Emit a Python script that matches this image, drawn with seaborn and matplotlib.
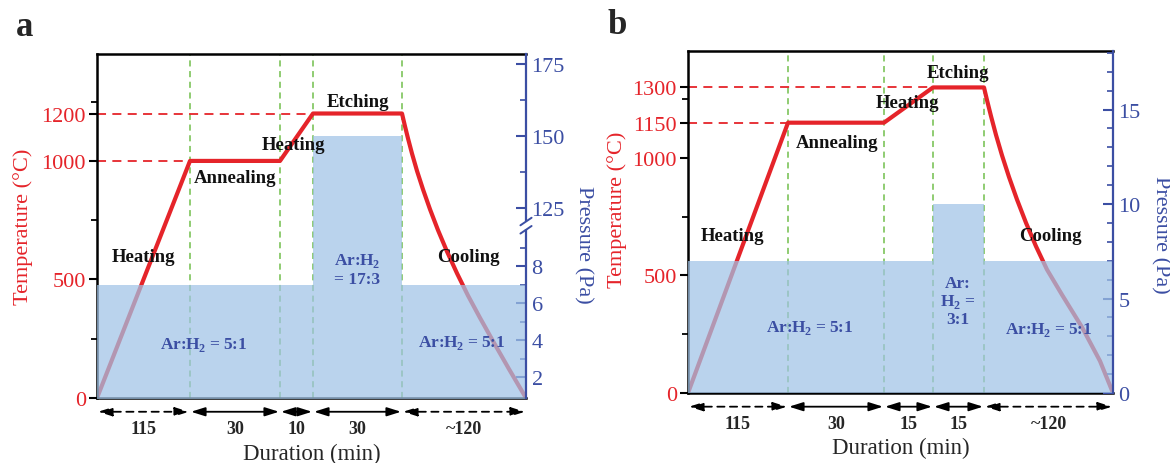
import numpy as np
import matplotlib
matplotlib.use("Agg")
import matplotlib.pyplot as plt
import seaborn as sns

# ---- data -------------------------------------------------------------
# duration labels for each phase (heating, annealing, heating, etching, cooling)
durations_a = ["115", "30", "10", "30", "~120"]
durations_b = ["115", "30", "15", "15", "~120"]

# schematic positions of the phase boundaries (time axis is not to scale)
edges_a = [0, 93, 183, 216, 305, 429]
edges_b = [0, 100, 196, 245, 296, 425]

# temperature profile (°C), cooling part
temp_x_a = [0, 93, 183, 216, 305, 308, 311, 315, 320, 326, 333, 341, 350,
            360, 371, 383, 396, 412, 429]
temp_y_a = [0, 1000, 1000, 1200, 1200, 1146, 1095, 1031, 958, 880, 796, 708, 618,
            526, 432, 338, 240, 122, 0]
temp_x_b = [0, 100, 196, 245, 296, 299, 303, 308, 314, 321, 329, 338, 348,
            359, 374, 394, 412, 425]
temp_y_b = [0, 1150, 1150, 1300, 1300, 1246, 1178, 1098, 1011, 919, 823, 724, 624,
            525, 418, 280, 136, 0]

# plateau temperatures marked with dashed guides
levels_a = [1000, 1200]
levels_b = [1150, 1300]

# chamber pressure per phase (Pa)
press_a = [7, 7, 7, 150, 7]
press_b = [7, 7, 7, 10, 7]

gas_a = ["Ar:H$_\\mathbf{2}$ = 5:1", "Ar:H$_\\mathbf{2}$\n= 17:3", "Ar:H$_\\mathbf{2}$ = 5:1"]
gas_b = ["Ar:H$_\\mathbf{2}$ = 5:1", "Ar:\nH$_\\mathbf{2}$ =\n3:1", "Ar:H$_\\mathbf{2}$ = 5:1"]
stages = ["Heating", "Annealing", "Heating", "Etching", "Cooling"]

# ---- style ------------------------------------------------------------
RED = "#e5242a"
BLUE = "#3b4ea3"
GREEN = "#72bf4c"
FILL = "#a0c3e6"

sns.set_theme(style="ticks")
plt.rcParams["font.family"] = ["Liberation Serif", "DejaVu Serif"]
plt.rcParams["mathtext.fontset"] = "custom"
plt.rcParams["mathtext.rm"] = "Liberation Serif"
plt.rcParams["mathtext.bf"] = "Liberation Serif:bold"

fig = plt.figure(figsize=(11.7, 4.64), dpi=100)
W, H = 1170, 464
ax_a = fig.add_axes([97 / W, 1 - 399 / H, 429 / W, 344 / H])
ax_b = fig.add_axes([688 / W, 1 - 394 / H, 425 / W, 342 / H])


def draw_panel(ax, edges, tx, ty, levels, press, durations, tmax):
    ax2 = ax.twinx()
    ax.set_xlim(edges[0], edges[-1])
    ax.set_ylim(0, tmax)
    ax.set_xticks([])

    # phase boundaries
    for x in edges[1:-1]:
        ax.axvline(x, color=GREEN, ls=(0, (4, 3)), lw=1.1, zorder=1)
    # plateau guides
    for lvl in levels:
        x_end = tx[ty.index(lvl)]
        ax.plot([edges[0], x_end], [lvl, lvl], color=RED, ls=(0, (5, 3.5)), lw=1.3)

    sns.lineplot(x=tx, y=ty, sort=False, estimator=None, color=RED, lw=3, ax=ax,
                 solid_joinstyle="round")

    # pressure band, drawn over the red curve
    ax2.fill_between(edges, press + [press[-1]], 0, step="post",
                     color=FILL, alpha=0.72, lw=0)

    for side in ["left", "top", "bottom"]:
        ax.spines[side].set_color("black")
        ax.spines[side].set_linewidth(1.8)
    ax.spines["right"].set_visible(False)
    for side in ["left", "top", "bottom"]:
        ax2.spines[side].set_visible(False)
    ax2.spines["right"].set_color(BLUE)
    ax2.spines["right"].set_linewidth(1.6)

    ax.tick_params(axis="y", which="major", direction="out", length=6, width=1.5,
                   color="black", labelcolor=RED, labelsize=16, pad=2)
    ax.tick_params(axis="y", which="minor", direction="out", length=4, width=1.3,
                   color="black")
    ax2.tick_params(axis="y", which="major", direction="in", length=7, width=1.5,
                    color=BLUE, labelcolor=BLUE, labelsize=16, pad=4)
    ax2.tick_params(axis="y", which="minor", direction="in", length=4, width=1.2,
                    color=BLUE)

    # duration arrows under the axis
    xt = ax.get_xaxis_transform()
    for i, (x0, x1, lab) in enumerate(zip(edges[:-1], edges[1:], durations)):
        dashed = i in (0, len(durations) - 1)
        ax.annotate("", xy=(x1 - 1, -0.04), xytext=(x0 + 1, -0.04),
                    xycoords=xt, textcoords=xt, annotation_clip=False,
                    arrowprops=dict(arrowstyle="<|-|>,head_length=0.7,head_width=0.22",
                                    color="black", lw=1.3,
                                    ls=(0, (4, 3)) if dashed else "-",
                                    shrinkA=0, shrinkB=0))
        ax.text((x0 + x1) / 2, -0.09, lab, transform=xt, ha="center", va="center",
                fontsize=13, fontweight="bold")
    ax.text(0.5, -0.16, "Duration (min)", transform=ax.transAxes,
            ha="center", va="center", fontsize=16.5)
    return ax2


# ---- panel a ----------------------------------------------------------
ax2a = draw_panel(ax_a, edges_a, temp_x_a, temp_y_a, levels_a, press_a,
                  durations_a, 1451)
ax_a.set_yticks([0, 500, 1000, 1200])
ax_a.set_yticks([250, 750, 1250], minor=True)


def fwd_a(p):
    return np.interp(p, [-100, 0, 10.2, 119, 1000], [-1850, 0, 188.7, 189.0, 2726])


def inv_a(u):
    return np.interp(u, [-1850, 0, 188.7, 189.0, 2726], [-100, 0, 10.2, 119, 1000])


ax2a.set_yscale("function", functions=(fwd_a, inv_a))
ax2a.set_ylim(0.865, 178.4)
ax2a.set_yticks([2, 4, 6, 8, 125, 150, 175])
ax2a.set_yticklabels(["2", "4", "6", "8", "125", "150", "175"])
ax2a.set_yticks([3, 5, 7, 9, 137.5, 162.5], minor=True)
ax2a.set_yticklabels([], minor=True)
# axis break marks
ax2a.plot([1, 1], [0.49, 0.515], transform=ax2a.transAxes, color="white", lw=4,
          clip_on=False, zorder=5, solid_capstyle="butt")
for y0 in [0.478, 0.502]:
    ax2a.plot([1 - 0.013, 1 + 0.013], [y0, y0 + 0.022], transform=ax2a.transAxes,
              color=BLUE, lw=1.4, clip_on=False, zorder=6)

for (x, t), s in zip([(46, 595), (138, 928), (196, 1068), (261, 1249), (371, 595)], stages):
    ax2a.text(x, t, s, transform=ax_a.transData, ha="center", va="center",
              fontsize=13.5, fontweight="bold", color="#111111")
for (x, t), s in zip([(107, 228), (260, 544), (365, 236)], gas_a):
    ax2a.text(x, t, s, transform=ax_a.transData, ha="center", va="center",
              fontsize=12.5, fontweight="bold", color=BLUE, linespacing=1.1)

# ---- panel b ----------------------------------------------------------
ax2b = draw_panel(ax_b, edges_b, temp_x_b, temp_y_b, levels_b, press_b,
                  durations_b, 1455)
ax_b.set_yticks([0, 500, 1000, 1150, 1300])
ax_b.set_yticks([250, 750, 1250], minor=True)
ax2b.set_ylim(0, 18.1)
ax2b.set_yticks([0, 5, 10, 15])
ax2b.set_yticks([p for p in range(1, 19) if p % 5], minor=True)

for (x, t), s in zip([(44, 668), (149, 1064), (219, 1234), (270, 1362), (362, 668)], stages):
    ax2b.text(x, t, s, transform=ax_b.transData, ha="center", va="center",
              fontsize=13.5, fontweight="bold", color="#111111")
for (x, t), s in zip([(122, 281), (270, 391), (361, 272)], gas_b):
    ax2b.text(x, t, s, transform=ax_b.transData, ha="center", va="center",
              fontsize=12.5, fontweight="bold", color=BLUE, linespacing=1.1)

# ---- axis titles and panel letters -----------------------------------
fig.text(23 / W, 1 - 227 / H, "Temperature (°C)", rotation=90, ha="center",
         va="center", color=RED, fontsize=16)
fig.text(617 / W, 1 - 210 / H, "Temperature (°C)", rotation=90, ha="center",
         va="center", color=RED, fontsize=16)
fig.text(583 / W, 1 - 245 / H, "Pressure (Pa)", rotation=-90, ha="center",
         va="center", color=BLUE, fontsize=16)
fig.text(1160 / W, 1 - 235 / H, "Pressure (Pa)", rotation=-90, ha="center",
         va="center", color=BLUE, fontsize=16)
fig.text(25 / W, 1 - 28 / H, "a", ha="center", va="center", fontsize=25,
         fontweight="bold")
fig.text(617 / W, 1 - 25 / H, "b", ha="center", va="center", fontsize=25,
         fontweight="bold")

fig.savefig("out.png", dpi=100)
